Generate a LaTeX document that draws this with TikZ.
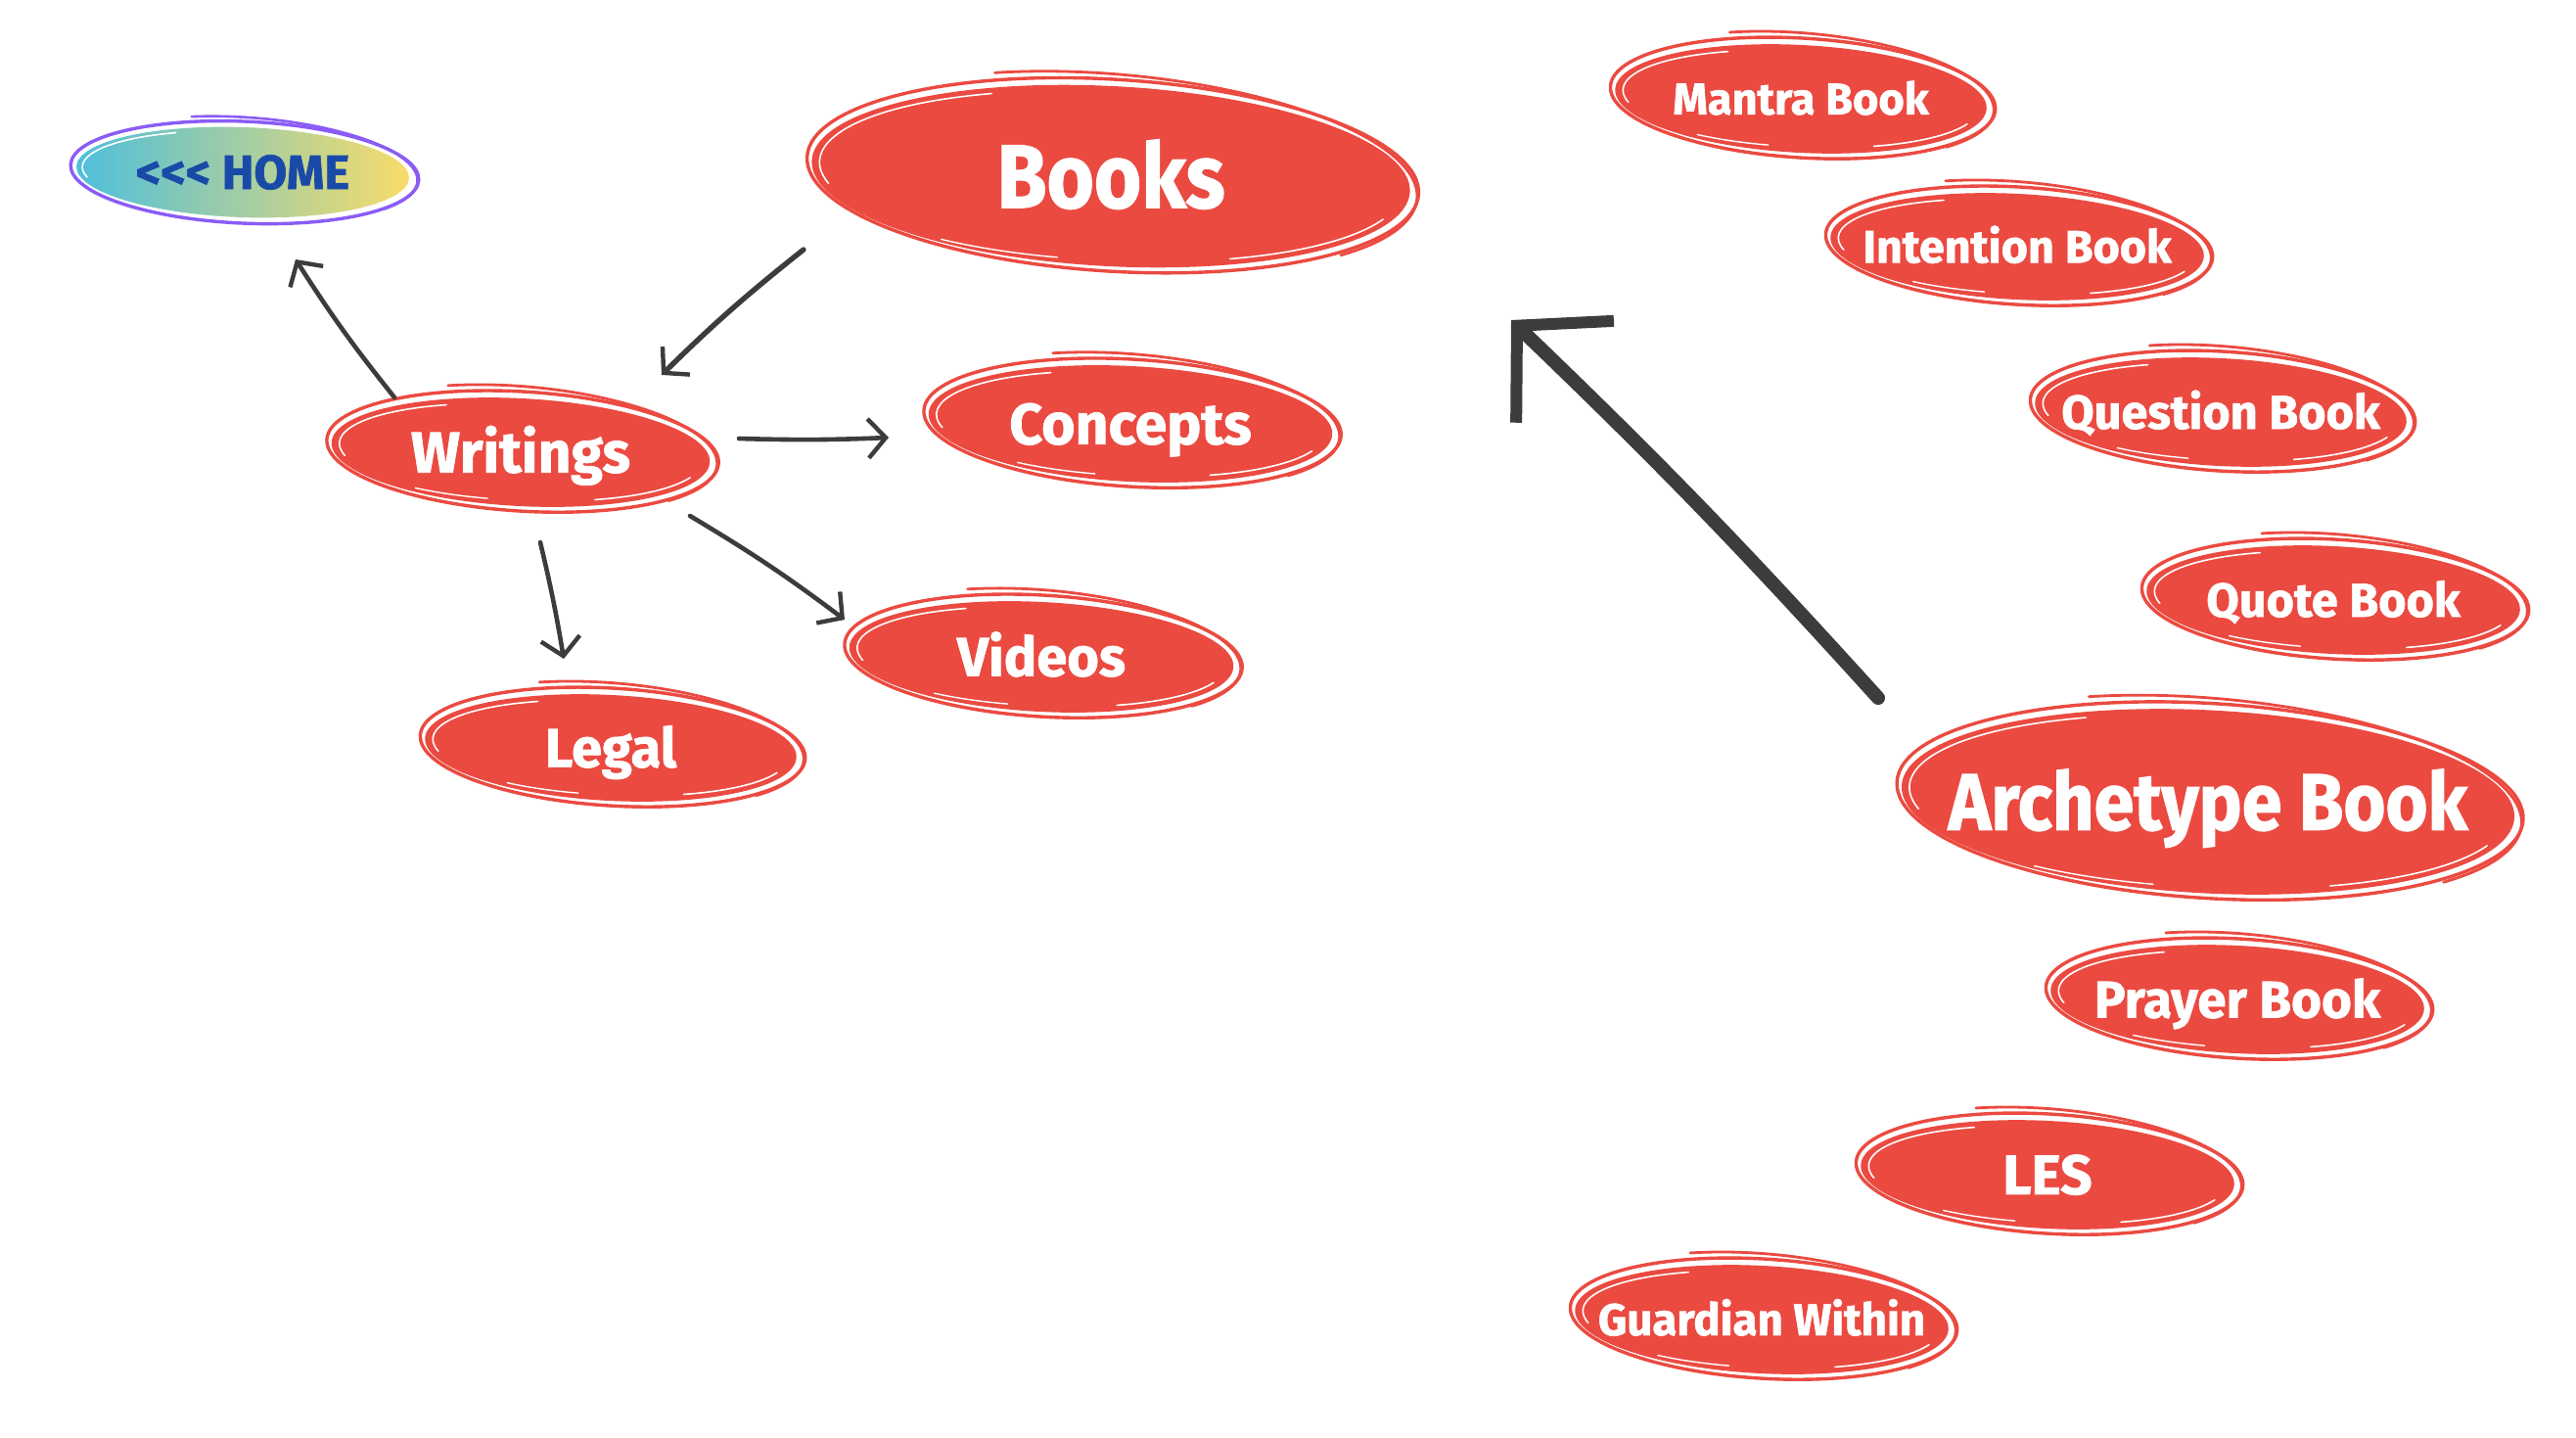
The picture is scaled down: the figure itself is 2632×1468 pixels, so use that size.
\documentclass[tikz,border=0pt]{standalone}
\usepackage{fontspec}
\setmainfont{Fira Sans}[BoldFeatures={FakeBold=1.3}]
\newfontfamily\condfont{Fira Sans}[FakeStretch=0.9, BoldFeatures={FakeBold=1.3}]
\usetikzlibrary{arrows.meta}
\definecolor{bubred}{HTML}{EB4A41}
\definecolor{arrowgray}{HTML}{3C3C3C}
\definecolor{homepurple}{HTML}{8A5CF5}
\definecolor{homeblue}{HTML}{1A4AA8}
\definecolor{homecyan}{HTML}{4EBFDC}
\definecolor{homeyellow}{HTML}{F8DC6A}
\tikzset{
  linkarrow/.style={draw=arrowgray, line width=2.3pt, line cap=round,
    -{Straight Barb[length=9pt,width=20pt,line width=2.2pt]}},
  bigarrow/.style={draw=arrowgray, line width=7pt, line cap=round,
    -{Straight Barb[length=34pt,width=72pt,line width=6pt]}},
  bubtext/.style={text=white, inner sep=0pt, text depth=0pt},
}
% #1 name, #2 x, #3 y, #4 w, #5 h, #6 font size, #7 font switch, #8 text
\newcommand\bubble[8]{%
  \begin{scope}[shift={(#2,#3)}]
    \pgfmathsetmacro\bubFa{#4/2-9}
    \pgfmathsetmacro\bubFb{#5/2-8}
    \pgfmathsetmacro\bubOa{#4/2-2}
    \pgfmathsetmacro\bubOb{#5/2-2}
    \pgfmathsetmacro\bubTa{#4/2-5}
    \pgfmathsetmacro\bubTb{#5/2}
    \pgfmathsetmacro\bubWa{#4/2-17}
    \pgfmathsetmacro\bubWb{#5/2-14}
    \pgfmathsetmacro\bubH{0.7*#6}
    \fill[bubred, rotate=-3] (0,0) ellipse [x radius=\bubFa, y radius=\bubFb];
    \draw[bubred, line width=1.7pt, rotate=-3.5] (2,-1) ellipse [x radius=\bubOa, y radius=\bubOb];
    \draw[bubred, line width=1.4pt, line cap=round, shift={(4,-4)}, rotate=-5]
      (245:\bubTa\space and \bubTb) arc[start angle=245, end angle=400, x radius=\bubTa, y radius=\bubTb];
    \draw[white, line width=0.8pt, line cap=round, rotate=-3]
      (165:\bubWa\space and \bubWb) arc[start angle=165, end angle=245, x radius=\bubWa, y radius=\bubWb];
    \draw[white, line width=0.8pt, line cap=round, rotate=-3]
      (20:\bubWa\space and \bubWb) arc[start angle=20, end angle=65, x radius=\bubWa, y radius=\bubWb];
    \draw[white, line width=0.7pt, line cap=round, rotate=-2]
      (100:\bubWa\space and \bubWb) arc[start angle=100, end angle=125, x radius=\bubWa, y radius=\bubWb];
    \node[bubtext, text height=\bubH pt, font=#7\bfseries\fontsize{#6pt}{#6pt}\selectfont] (#1) at (0,0) {#8};
  \end{scope}%
}
\begin{document}
\begin{tikzpicture}[x=0.5pt, y=-0.5pt]
  \fill[white] (0,0) rectangle (2632,1468);
  \useasboundingbox (0,0) rectangle (2632,1468);

  % HOME button
  \begin{scope}[shift={(248,176)}]
    \shade[left color=homecyan, right color=homeyellow, rotate=-2] (0,0) ellipse [x radius=170, y radius=46];
    \draw[homepurple, line width=1.7pt, rotate=-2.5] (2,0) ellipse [x radius=178, y radius=52];
    \draw[homepurple, line width=1.3pt, line cap=round, shift={(4,-3)}, rotate=-4]
      (250:175 and 53) arc[start angle=250, end angle=395, x radius=175, y radius=53];
    \draw[white, line width=0.8pt, rotate=-2] (165:164 and 42) arc[start angle=165, end angle=245, x radius=164, y radius=42];
    \node[inner sep=0pt, text depth=0pt, text height=17pt, text=homeblue,
      font=\bfseries\fontsize{24.5pt}{24.5pt}\selectfont] (home) at (0,0) {<{}<{}< HOME};
  \end{scope}

  \bubble{books}{1135}{180}{630}{200}{46}{\condfont}{Books}
  \bubble{writings}{532}{462}{405}{126}{29.5}{}{Writings}
  \bubble{concepts}{1155}{433}{431}{134}{29.5}{}{Concepts}
  \bubble{videos}{1064}{671}{411}{128}{28}{}{Videos}
  \bubble{legal}{624}{764}{398}{124}{28}{}{Legal}
  \bubble{mantra}{1840}{101}{398}{126}{22.6}{}{Mantra Book}
  \bubble{intention}{2061}{252}{400}{124}{23.3}{}{Intention Book}
  \bubble{question}{2269}{421}{398}{126}{24.3}{}{Question Book}
  \bubble{quote}{2384}{613}{400}{126}{24.3}{}{Quote Book}
  \bubble{archetype}{2256}{819}{645}{203}{41}{\condfont}{Archetype Book}
  \bubble{prayer}{2286}{1021}{400}{126}{26.5}{}{Prayer Book}
  \bubble{les}{2092}{1200}{400}{126}{28.5}{}{LES}
  \bubble{guardian}{1800}{1348}{400}{126}{22.8}{}{Guardian Within}

  % connector end points
  \coordinate (whS) at (403,406);  \coordinate (whE) at (302,265);
  \coordinate (bwS) at (821,255);  \coordinate (bwE) at (676,383);
  \coordinate (wcS) at (755,448);  \coordinate (wcE) at (908,447);
  \coordinate (wvS) at (705,527);  \coordinate (wvE) at (863,633);
  \coordinate (wlS) at (552,554);  \coordinate (wlE) at (576,673);
  \coordinate (abS) at (1919,713); \coordinate (abE) at (1544,327);

  \draw[linkarrow] (whS) to[bend left=3] (whE);
  \draw[linkarrow, line width=2.7pt] (bwS) to[bend right=3] (bwE);
  \draw[linkarrow] (wcS) to[bend right=2] (wcE);
  \draw[linkarrow] (wvS) to[bend left=3] (wvE);
  \draw[linkarrow] (wlS) to[bend left=2] (wlE);
  \draw[bigarrow] (abS) to[bend right=2] (abE);
\end{tikzpicture}
\end{document}
